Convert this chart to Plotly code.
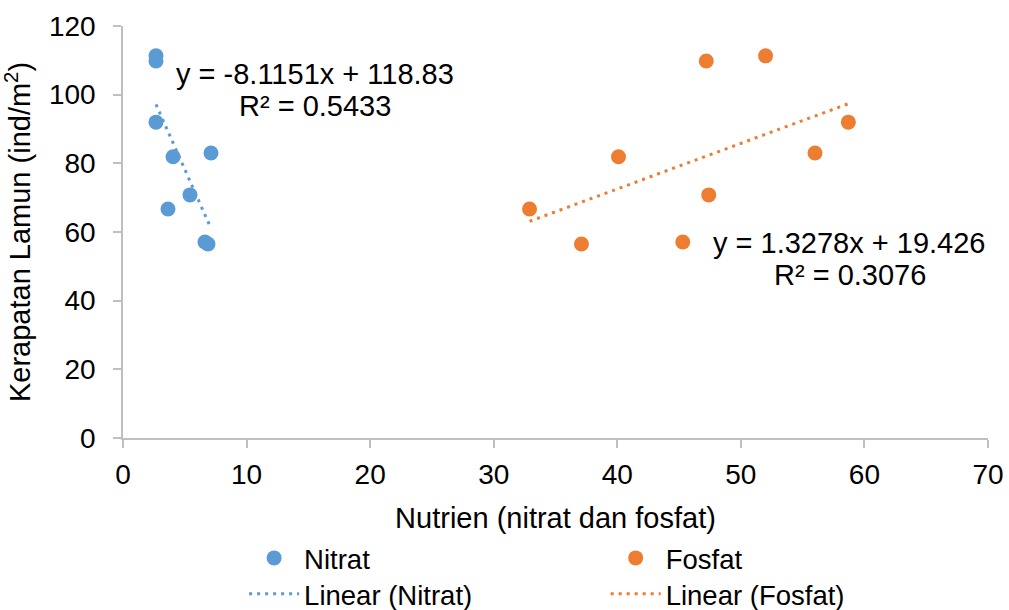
import plotly.graph_objects as go

# Data
density = [111.3, 109.8, 92.0, 81.9, 83.0, 70.8, 66.7, 57.1, 56.5]
nitrat_x = [2.67, 2.67, 2.67, 4.05, 7.12, 5.42, 3.64, 6.63, 6.88]
fosfat_x = [52.0, 47.2, 58.7, 40.1, 56.0, 47.4, 32.9, 45.3, 37.1]

nitrat_slope, nitrat_intercept, nitrat_r2 = -8.1151, 118.83, 0.5433
fosfat_slope, fosfat_intercept, fosfat_r2 = 1.3278, 19.426, 0.3076

x_ticks = [0, 10, 20, 30, 40, 50, 60, 70]
y_ticks = [0, 20, 40, 60, 80, 100, 120]

BLUE = "#5B9BD5"
ORANGE = "#ED7D31"
FONT = "Liberation Sans, Arial, sans-serif"
TXT = "#000000"
FS = 29
LFS = 27.5

def trend(xs, m, b):
    lo, hi = min(xs), max(xs)
    return [lo, hi], [m * lo + b, m * hi + b]

fig = go.Figure()
fig.add_trace(go.Scatter(x=nitrat_x, y=density, mode="markers", name="Nitrat",
                         marker=dict(color=BLUE, size=15), legend="legend"))
tx, ty = trend(nitrat_x, nitrat_slope, nitrat_intercept)
fig.add_trace(go.Scatter(x=tx, y=ty, mode="lines", name="Linear (Nitrat)",
                         line=dict(color=BLUE, width=3, dash="3px,5px"), legend="legend3"))
fig.add_trace(go.Scatter(x=fosfat_x, y=density, mode="markers", name="Fosfat",
                         marker=dict(color=ORANGE, size=15), legend="legend2"))
tx, ty = trend(fosfat_x, fosfat_slope, fosfat_intercept)
fig.add_trace(go.Scatter(x=tx, y=ty, mode="lines", name="Linear (Fosfat)",
                         line=dict(color=ORANGE, width=3, dash="3px,5px"), legend="legend4"))

afont = dict(size=FS, color=TXT, family=FONT)
fig.add_annotation(x=15.5, y=106.0, xref="x", yref="y", text=f"y = {nitrat_slope}x + {nitrat_intercept}",
                   showarrow=False, font=afont)
fig.add_annotation(x=15.5, y=96.6, xref="x", yref="y", text=f"R² = {nitrat_r2}",
                   showarrow=False, font=afont)
fig.add_annotation(x=58.8, y=56.8, xref="x", yref="y", text=f"y = {fosfat_slope}x + {fosfat_intercept}",
                   showarrow=False, font=afont)
fig.add_annotation(x=58.8, y=47.5, xref="x", yref="y", text=f"R² = {fosfat_r2}",
                   showarrow=False, font=afont)

axis_common = dict(showgrid=False, zeroline=False, showline=True, linecolor="#BFBFBF",
                   linewidth=1.5, ticks="outside", tickcolor="#BFBFBF", ticklen=8, tickwidth=1.5,
                   tickfont=dict(size=28, color=TXT, family=FONT), automargin=False)

def leg(x, y):
    return dict(x=x, y=y, xanchor="left", yanchor="middle", orientation="v",
                font=dict(size=LFS, color=TXT, family=FONT), itemwidth=50,
                bgcolor="rgba(0,0,0,0)")

fig.update_layout(
    width=1009, height=610,
    margin=dict(l=123, r=21, t=26, b=172, autoexpand=False),
    paper_bgcolor="white", plot_bgcolor="white",
    font=dict(family=FONT, color=TXT),
    xaxis=dict(range=[0, 70], tickvals=x_ticks, ticklabelstandoff=3, **axis_common,
               title=dict(text="Nutrien (nitrat dan fosfat)", font=dict(size=FS, color=TXT, family=FONT), standoff=18)),
    yaxis=dict(range=[0, 120], tickvals=y_ticks, ticklabelstandoff=12, **axis_common,
               title=dict(text="Kerapatan Lamun (ind/m<sup>2</sup>)", font=dict(size=FS, color=TXT, family=FONT), standoff=14)),
    legend=leg(0.14, -0.2913),
    legend3=leg(0.14, -0.3786),
    legend2=leg(0.558, -0.2913),
    legend4=leg(0.558, -0.3786),
    showlegend=True,
)

fig.write_html("out.html", config={"displayModeBar": False},
               post_script="document.body.style.margin='0';document.body.style.overflow='hidden';")
